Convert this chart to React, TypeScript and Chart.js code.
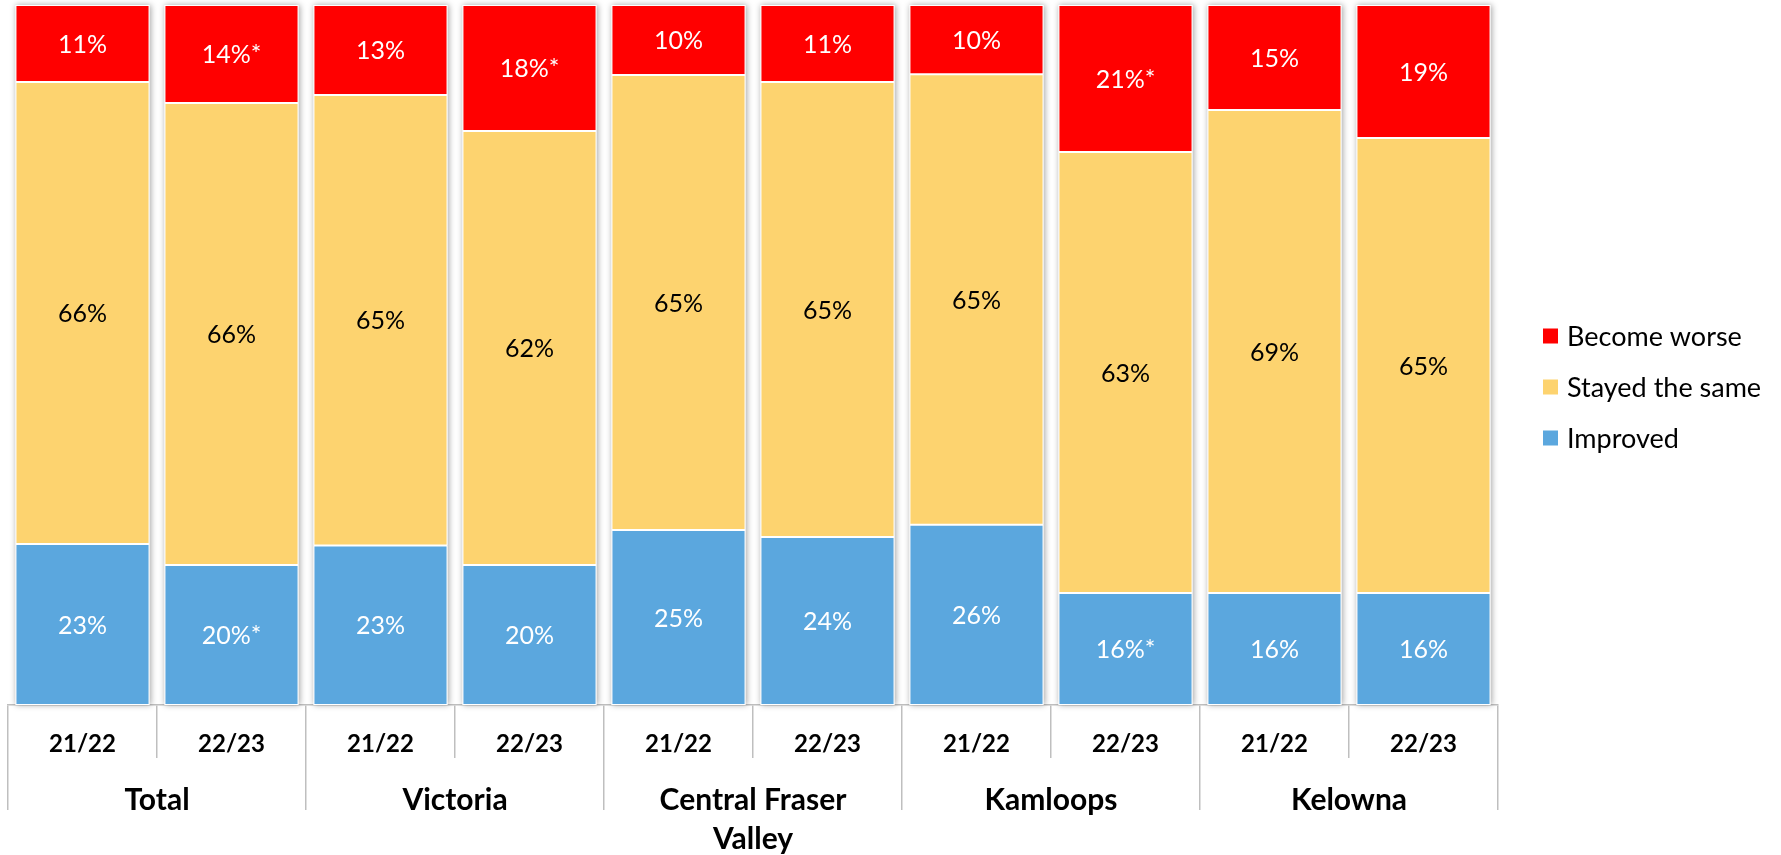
import React, { useEffect, useRef } from 'react';
import { Chart, registerables } from 'chart.js';

Chart.register(...registerables);

const periods = ['21/22', '22/23', '21/22', '22/23', '21/22', '22/23', '21/22', '22/23', '21/22', '22/23'];
const groups = ['Total', 'Victoria', ['Central Fraser', 'Valley'], 'Kamloops', 'Kelowna'];

const improved = [23, 20, 23, 20, 25, 24, 26, 16, 16, 16];
const stayed = [66, 66, 65, 62, 65, 65, 65, 63, 69, 65];
const worse = [11, 14, 13, 18, 10, 11, 10, 21, 15, 19];

const improvedSig = [false, true, false, false, false, false, false, true, false, false];
const stayedSig = [false, false, false, false, false, false, false, false, false, false];
const worseSig = [false, true, false, true, false, false, false, true, false, false];

const seriesNames = ['Improved', 'Stayed the same', 'Become worse'];
const seriesColors = ['#5BA7DE', '#FDD36F', '#FF0000'];
const labelColors = ['#FFFFFF', '#000000', '#FFFFFF'];

const FONT = 'Lato, "Open Sans", sans-serif';

const share = (arr: number[]) =>
  arr.map((v, i) => (v / (improved[i] + stayed[i] + worse[i])) * 100);

const segLabels = {
  id: 'segLabels',
  afterDatasetsDraw(chart: any) {
    const ctx = chart.ctx;
    ctx.save();
    ctx.font = `25px ${FONT}`;
    ctx.textAlign = 'center';
    ctx.textBaseline = 'middle';
    chart.data.datasets.forEach((ds: any, di: number) => {
      const meta = chart.getDatasetMeta(di);
      meta.data.forEach((el: any, i: number) => {
        const { x, y, base } = el.getProps(['x', 'y', 'base'], true);
        ctx.fillStyle = ds.labelColor;
        const txt = ds.rawValues[i] + '%' + (ds.sig[i] ? '*' : '');
        ctx.fillText(txt, x, (y + base) / 2 + 1);
      });
    });
    ctx.restore();
  },
};

const customLegend = {
  id: 'customLegend',
  afterDraw(chart: any) {
    const ctx = chart.ctx;
    ctx.save();
    ctx.font = `27px ${FONT}`;
    ctx.textAlign = 'left';
    ctx.textBaseline = 'middle';
    const items = chart.data.datasets.slice().reverse();
    const x0 = 1543;
    const y0 = 336;
    const gap = 51;
    items.forEach((ds: any, k: number) => {
      const cy = y0 + k * gap;
      ctx.fillStyle = ds.backgroundColor;
      ctx.fillRect(x0, cy - 7.5, 15, 15);
      ctx.fillStyle = '#000';
      ctx.fillText(ds.label, x0 + 24, cy + 1);
    });
    ctx.restore();
  },
};

const barShadow = {
  id: 'barShadow',
  beforeDatasetsDraw(chart: any) {
    const ctx = chart.ctx;
    ctx.save();
    const meta = chart.getDatasetMeta(0);
    const top = chart.scales.y.getPixelForValue(100);
    const bottom = chart.scales.y.getPixelForValue(0);
    ctx.shadowColor = 'rgba(0,0,0,0.35)';
    ctx.shadowBlur = 6;
    ctx.shadowOffsetX = 1;
    ctx.fillStyle = '#ffffff';
    meta.data.forEach((el: any) => {
      const { x, width } = el.getProps(['x', 'width'], true);
      ctx.fillRect(x - width / 2, top, width, bottom - top);
    });
    ctx.restore();
  },
};

export default function App() {
  const ref = useRef<HTMLCanvasElement | null>(null);

  useEffect(() => {
    document.body.style.margin = '0';
    if (!ref.current) return;
    const rawSets = [improved, stayed, worse];
    const sigs = [improvedSig, stayedSig, worseSig];
    const chart = new Chart(ref.current, {
      type: 'bar',
      data: {
        labels: periods,
        datasets: rawSets.map((arr, k) => ({
          label: seriesNames[k],
          data: share(arr),
          backgroundColor: seriesColors[k],
          borderColor: '#FFFFFF',
          borderWidth: 1,
          borderSkipped: false,
          barPercentage: 0.9,
          categoryPercentage: 1,
          rawValues: arr,
          sig: sigs[k],
          labelColor: labelColors[k],
        })) as any,
      },
      options: {
        animation: false,
        responsive: true,
        maintainAspectRatio: false,
        layout: { padding: { left: 8, right: 283, top: 5, bottom: 0 } },
        plugins: {
          legend: { display: false },
          tooltip: { enabled: false },
        },
        scales: {
          x: {
            stacked: true,
            offset: true,
            afterFit: (s: any) => { s.height = 53; },
            grid: {
              offset: true,
              drawOnChartArea: false,
              drawTicks: true,
              tickLength: 53,
              color: '#BFBFBF',
              lineWidth: 1.5,
            },
            border: { display: true, color: '#BFBFBF', width: 1.5 },
            ticks: {
              autoSkip: false,
              maxRotation: 0,
              padding: -28,
              color: '#000',
              font: { family: FONT, size: 24, weight: 'bold', lineHeight: 1.2 },
            },
          },
          x2: {
            type: 'category',
            labels: groups as any,
            position: 'bottom',
            offset: true,
            afterFit: (s: any) => { s.height = 97; },
            grid: {
              offset: true,
              drawOnChartArea: false,
              drawTicks: true,
              tickLength: 52,
              color: '#BFBFBF',
              lineWidth: 1.5,
            },
            border: { display: false },
            ticks: {
              autoSkip: false,
              maxRotation: 0,
              padding: -29,
              color: '#000',
              font: { family: FONT, size: 30, weight: 'bold', lineHeight: 1.3 },
            },
          },
          y: { display: false, stacked: true, min: 0, max: 100 },
        },
      } as any,
      plugins: [barShadow, segLabels, customLegend],
    });
    return () => chart.destroy();
  }, []);

  return (
    <div style={{ width: 1781, height: 855, position: 'relative' }}>
      <canvas ref={ref} />
    </div>
  );
}
